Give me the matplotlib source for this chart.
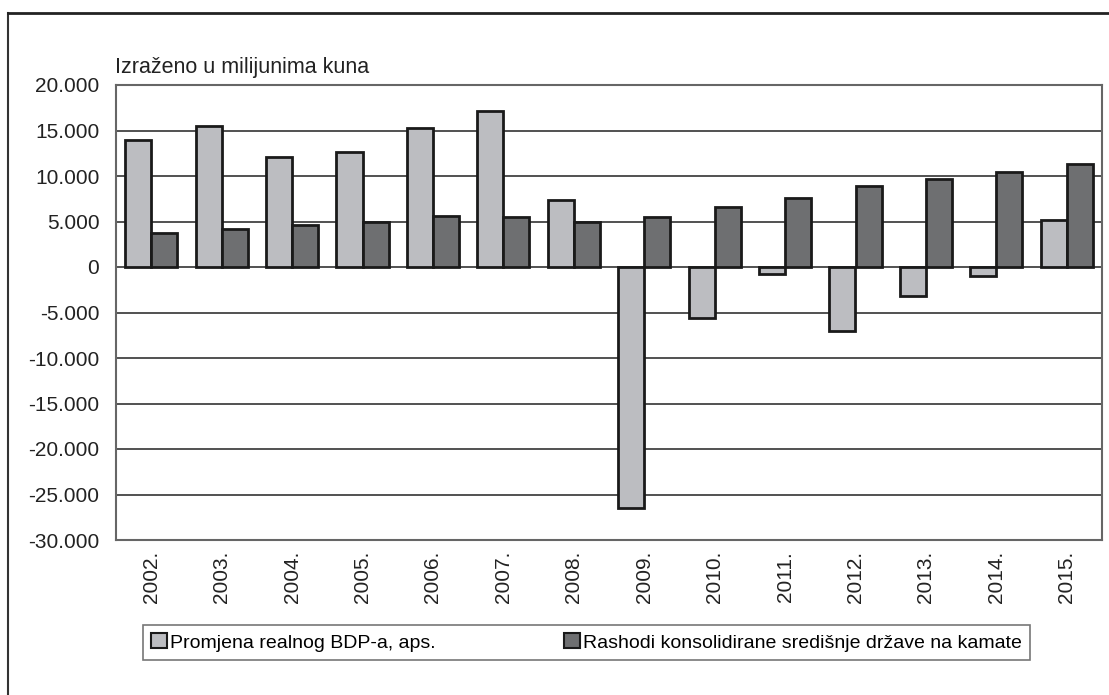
import matplotlib
matplotlib.use("Agg")
import matplotlib.pyplot as plt
from matplotlib.lines import Line2D
from matplotlib.patches import Patch
from matplotlib.ticker import FuncFormatter
import numpy as np

years = ["2002.", "2003.", "2004.", "2005.", "2006.", "2007.", "2008.",
         "2009.", "2010.", "2011.", "2012.", "2013.", "2014.", "2015."]
# values in millions of kuna
bdp_change = [14000, 15500, 12100, 12600, 15300, 17100, 7400,
              -26500, -5600, -800, -7000, -3200, -1000, 5200]
interest_exp = [3700, 4200, 4600, 5000, 5600, 5500, 4900,
                5500, 6600, 7600, 8900, 9700, 10400, 11300]
series_labels = ["Promjena realnog BDP-a, aps.",
                 "Rashodi konsolidirane središnje države na kamate"]
unit_note = "Izraženo u milijunima kuna"

plt.rcParams["font.family"] = ["Liberation Sans", "DejaVu Sans"]

W, H = 1109, 695
fig = plt.figure(figsize=(W / 100, H / 100), dpi=100)
ax = fig.add_axes([116 / W, 1 - 540 / H, (1102 - 116) / W, (540 - 85) / H])

x = np.arange(len(years))
bw = 0.37
light, dark = "#bcbdc1", "#6e6f71"
ax.bar(x - bw / 2, bdp_change, bw, color=light, edgecolor="#1a1a1a", linewidth=2, zorder=3)
ax.bar(x + bw / 2, interest_exp, bw, color=dark, edgecolor="#1a1a1a", linewidth=2, zorder=3)

ax.set_xlim(-0.5, len(years) - 0.5)
ax.set_ylim(-30000, 20000)
ax.set_yticks(np.arange(-30000, 20001, 5000))
ax.yaxis.set_major_formatter(FuncFormatter(lambda v, _: f"{v:,.0f}".replace(",", ".")))
ax.grid(axis="y", color="#222222", linewidth=1.1, zorder=1)
ax.set_xticks(x)
ax.set_xticklabels(years, rotation=90)
ax.tick_params(length=0, labelsize=15, colors="#222222")
ax.tick_params(axis="y", pad=12)
ax.tick_params(axis="x", pad=8)
for s in ax.spines.values():
    s.set_color("#666666")
    s.set_linewidth(1.5)

fig.text(115 / W, 1 - 68 / H, unit_note, fontsize=15.5, color="#222222", va="center")

handles = [Patch(facecolor=light, edgecolor="#1a1a1a", linewidth=1.5),
           Patch(facecolor=dark, edgecolor="#1a1a1a", linewidth=1.5)]
leg = fig.legend(handles, series_labels, loc="lower left", ncol=2, mode="expand",
                 bbox_to_anchor=(133 / W, 1 - 670 / H, (1040 - 133) / W, 45 / H),
                 frameon=True, fancybox=False, edgecolor="#555555",
                 handlelength=0.8, handleheight=0.8, handletextpad=0.15,
                 borderpad=0.45, prop={"size": 14})
leg.get_frame().set_linewidth(1.2)

# outer frame (left and top edges visible)
fig.add_artist(Line2D([8 / W, 8 / W], [0, 1 - 13 / H], transform=fig.transFigure, color="#333333", lw=1.5))
fig.add_artist(Line2D([8 / W, 1], [1 - 13 / H, 1 - 13 / H], transform=fig.transFigure, color="#222222", lw=2))

fig.savefig("out.png", dpi=100)
